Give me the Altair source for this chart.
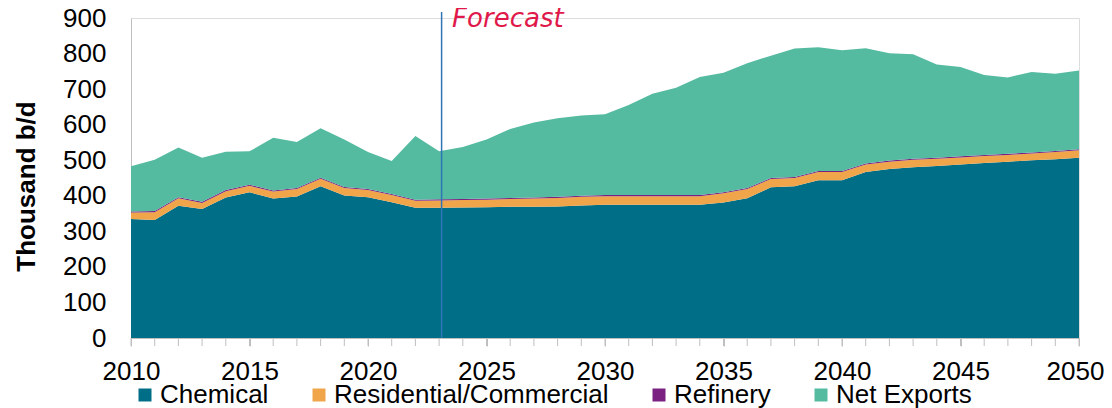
import altair as alt
import pandas as pd

years = list(range(2010, 2051))
x_label_years = [2010, 2015, 2020, 2025, 2030, 2035, 2040, 2045, 2050]
series_names = ["Chemical", "Residential/Commercial", "Refinery", "Net Exports"]
series_colors = ["#006E87", "#F0A54B", "#7A2182", "#54BAA0"]

chemical = [335, 332, 372, 363, 395, 410, 392, 398, 427, 401,
            396, 382, 366, 366, 367, 368, 369, 369, 370, 373,
            375, 375, 375, 375, 375, 381, 393, 424, 427, 444,
            444, 467, 475, 480, 484, 488, 492, 496, 500, 503,
            507]
residential = [18, 22, 21, 17, 18, 18, 20, 21, 21, 21,
               20, 20, 20, 21, 21, 21, 22, 23, 24, 24,
               24, 24, 24, 24, 24, 26, 26, 23, 23, 23,
               23, 21, 21, 21, 20, 20, 20, 19, 19, 20,
               21]
refinery = [3, 3, 3, 3, 3, 3, 3, 3, 3, 3,
            3, 3, 3, 3, 3, 3, 3, 3, 3, 3,
            3, 3, 3, 3, 3, 3, 3, 3, 3, 3,
            3, 3, 3, 3, 3, 3, 3, 3, 3, 3,
            3]
net_exports = [127, 144, 140, 124, 108, 94, 148, 129, 139, 133,
               104, 93, 179, 135, 146, 166, 194, 211, 221, 226,
               227, 253, 285, 302, 332, 336, 351, 344, 361, 348,
               339, 324, 302, 294, 262, 251, 225, 215, 226, 217,
               221]

forecast_year = [2023]
y_ticks = [0, 100, 200, 300, 400, 500, 600, 700, 800, 900]

rows = []
for k, (name, vals) in enumerate(zip(series_names, [chemical, residential, refinery, net_exports])):
    for yr, v in zip(years, vals):
        rows.append({"year": yr, "value": v, "series": name, "k": k})
df = pd.DataFrame(rows)

FONT = "Liberation Sans"
FS = 26

area = alt.Chart(df).mark_area(interpolate="linear", opacity=1).encode(
    x=alt.X("year:Q",
            scale=alt.Scale(domain=[2010, 2050], nice=False, zero=False),
            axis=alt.Axis(values=x_label_years, title=None, grid=False,
                          format="d", labelOverlap=False, labelFlush=False,
                          labelOffset={"condition": {"test": "datum.value == 2050", "value": -4}, "value": 0},
                          labelFont=FONT, labelFontSize=FS, labelColor="#000000",
                          domainColor="#BFBFBF", tickColor="#BFBFBF",
                          tickSize=8, labelPadding=12)),
    y=alt.Y("value:Q", stack="zero",
            scale=alt.Scale(domain=[0, 900], nice=False),
            axis=alt.Axis(values=y_ticks, grid=False, ticks=False,
                          labelFont=FONT, labelFontSize=FS, labelColor="#000000",
                          labelPadding=25, domainColor="#BFBFBF",
                          title="Thousand b/d", titleFont=FONT, titleFontSize=FS,
                          titleFontWeight="bold", titleColor="#000000",
                          titleAngle=270, titleX=-97, titleY=168,
                          titleAlign="center", titleBaseline="alphabetic")),
    color=alt.Color("series:N",
                    scale=alt.Scale(domain=series_names, range=series_colors),
                    legend=alt.Legend(title=None, orient="none", direction="horizontal",
                                      legendX=1, legendY=364, padding=0, offset=0,
                                      symbolType="square", symbolSize=169,
                                      symbolStrokeWidth=0, symbolOpacity=1,
                                      labelFont=FONT, labelFontSize=FS,
                                      labelColor="#000000", labelLimit=400,
                                      labelOffset=2, columnPadding=37)),
    order=alt.Order("k:Q", sort="ascending"),
)

# minor year ticks below the x axis
ydf = pd.DataFrame({"year": years})
minor_ticks = alt.Chart(ydf).mark_rule(color="#BFBFBF", strokeWidth=1).encode(
    x="year:Q", y=alt.value(320), y2=alt.value(328)
)

fdf = pd.DataFrame({"year": forecast_year, "label": ["Forecast"]})

rule = alt.Chart(fdf).mark_rule(color="#2E75B6", strokeWidth=1.5, xOffset=2.5).encode(
    x="year:Q", y=alt.value(-6), y2=alt.value(320)
)

text = alt.Chart(fdf).mark_text(font="DejaVu Sans", fontStyle="italic", fontSize=26,
                                color="#E0194A", align="left", baseline="alphabetic",
                                dx=13).encode(
    x="year:Q", y=alt.value(9), text="label:N"
)

chart = alt.layer(area, minor_ticks, rule, text).properties(
    width=948, height=320,
    autosize=alt.AutoSizeParams(type="none"),
    padding={"left": 123, "top": 10, "right": 25, "bottom": 70},
).configure_view(stroke=None).configure(background="white")

chart.save("out.html", embed_options={"renderer": "svg", "actions": False})
